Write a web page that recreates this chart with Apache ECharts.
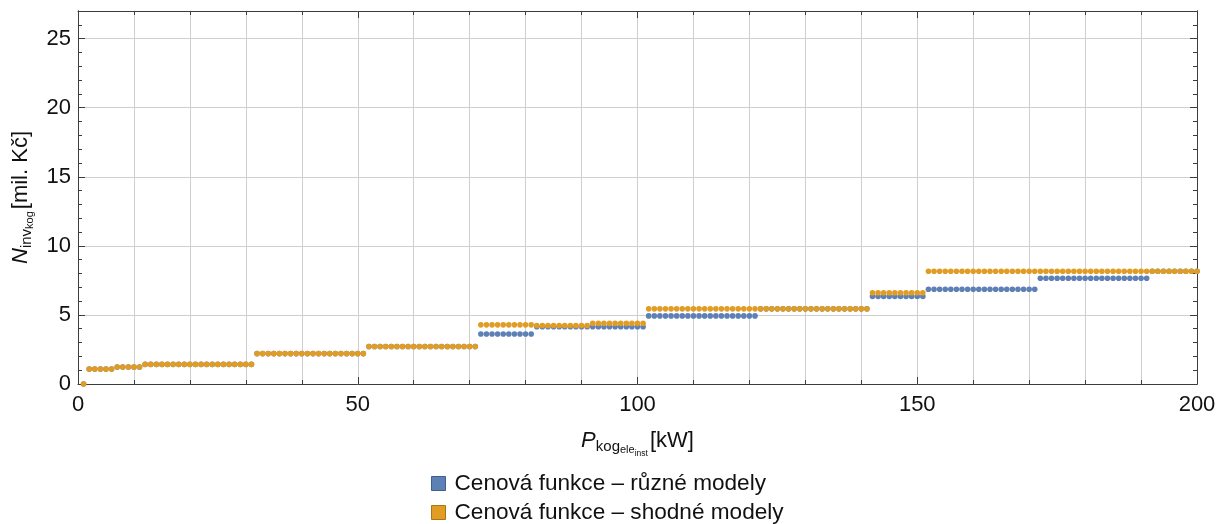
<!DOCTYPE html>
<html>
<head>
<meta charset="utf-8">
<script src="https://cdn.jsdelivr.net/npm/echarts@6/dist/echarts.min.js"></script>
<style>
  html, body { margin: 0; padding: 0; background: #fff; }
  #chart { width: 1228px; height: 524px; }
</style>
</head>
<body>
<div id="chart"></div>
<script>
// Installed electric power of the CHP unit, kW (one point per kW)
const powerStart = 1;

// Investment cost steps, mil. Kč: level value and how many consecutive kW it holds
const diffLevels = [0, 1.08, 1.23, 1.42, 2.20, 2.71, 3.62, 4.14, 4.93, 5.44, 6.34, 6.86, 7.66, 8.16];
const diffCounts = [1, 5, 5, 20, 20, 20, 10, 20, 20, 20, 10, 20, 20, 9];

const sameLevels = [0, 1.08, 1.23, 1.42, 2.20, 2.71, 4.28, 4.24, 4.39, 5.44, 6.60, 8.16];
const sameCounts = [1, 5, 5, 20, 20, 20, 10, 10, 10, 40, 10, 49];

const seriesNames = ['Cenová funkce – různé modely', 'Cenová funkce – shodné modely'];
const seriesColors = ['#5e81b5', '#e19c24'];
const seriesBorders = ['#3e5f90', '#a8731a'];

const xTickLabels = [0, 50, 100, 150, 200];
const yTickLabels = [0, 5, 10, 15, 20, 25];

// Expand the run-length steps into [kW, value] points
function stepPoints(levels, counts) {
  const pts = [];
  let p = powerStart;
  levels.forEach((v, i) => {
    for (let k = 0; k < counts[i]; k++) { pts.push([p, v]); p++; }
  });
  return pts;
}

const FONT = 'Liberation Sans, Arial, sans-serif';
const frameColor = '#3c3c3c';
const gridColor = '#cfcfcf';
const textColor = '#111';

const chart = echarts.init(document.getElementById('chart'));

const mainX = {
  type: 'value', min: 0, max: 200, interval: 50,
  axisLine: { show: true, onZero: false, lineStyle: { color: frameColor, width: 1 } },
  splitLine: { show: true, lineStyle: { color: gridColor, width: 1 } },
  minorSplitLine: { show: true, lineStyle: { color: gridColor, width: 1 } },
  axisTick: { show: true, inside: true, length: 7, lineStyle: { color: frameColor } },
  minorTick: { show: true, splitNumber: 5, length: 4, lineStyle: { color: frameColor } }
};

const minorY = (pos) => ({
  type: 'value', position: pos, min: 0, max: 27, interval: 1,
  axisLine: { show: true, onZero: false, lineStyle: { color: frameColor, width: 1 } },
  axisTick: { show: true, inside: true, length: 4, lineStyle: { color: frameColor } },
  axisLabel: { show: false }, splitLine: { show: false }
});

const majorY = (pos, labels) => ({
  type: 'value', position: pos, min: 0, max: 27, interval: 5,
  axisLine: { show: true, onZero: false, lineStyle: { color: frameColor, width: 1 } },
  axisTick: { show: true, inside: true, length: 7, lineStyle: { color: frameColor } },
  axisLabel: labels ? {
    show: true, fontSize: 22, color: textColor, fontFamily: FONT, margin: 7,
    formatter: v => yTickLabels.includes(v) ? String(v) : ''
  } : { show: false },
  splitLine: { show: labels, lineStyle: { color: gridColor, width: 1 } }
});

// Axis titles: italic symbol followed by nested, progressively lowered subscripts
const richName = {
  m: { fontSize: 22, fontStyle: 'italic', fontFamily: FONT, color: textColor, verticalAlign: 'top' },
  s1: { fontSize: 15, fontFamily: FONT, color: textColor, verticalAlign: 'top', padding: [9, 0, 0, 0] },
  s2: { fontSize: 11, fontFamily: FONT, color: textColor, verticalAlign: 'top', padding: [14, 0, 0, 0] },
  s3: { fontSize: 8.5, fontFamily: FONT, color: textColor, verticalAlign: 'top', padding: [19, 0, 0, 0] },
  u: { fontSize: 22, fontFamily: FONT, color: textColor, verticalAlign: 'top', padding: [0, 0, 0, 2] }
};

chart.setOption({
  animation: false,
  backgroundColor: '#ffffff',
  grid: { left: 78, right: 31, top: 11, bottom: 140, containLabel: false, outerBoundsMode: 'none' },
  xAxis: [
    Object.assign({}, mainX, {
      position: 'bottom',
      axisLabel: {
        show: true, fontSize: 22, color: textColor, fontFamily: FONT, margin: 10,
        formatter: v => xTickLabels.includes(v) ? String(v) : ''
      },
      name: '{m|P}{s1|kog}{s2|ele}{s3|inst}{u|[kW]}',
      nameLocation: 'middle', nameGap: 46, nameMoveOverlap: false,
      nameTextStyle: { rich: richName }
    }),
    Object.assign({}, mainX, {
      position: 'top',
      axisLabel: { show: false },
      splitLine: { show: false }, minorSplitLine: { show: false }
    })
  ],
  yAxis: [
    Object.assign(majorY('left', true), {
      name: '{m|N}{s1|inv}{s2|kog}{u|[mil. Kč]}',
      nameLocation: 'middle', nameGap: 43, nameRotate: 90, nameMoveOverlap: false,
      nameTextStyle: { rich: richName }
    }),
    minorY('left'),
    majorY('right', false),
    minorY('right')
  ],
  legend: {
    orient: 'vertical', left: 431, top: 472, height: 100, padding: 0,
    icon: 'rect', itemWidth: 14, itemHeight: 14, itemGap: 6,
    textStyle: { fontSize: 22.6, color: textColor, fontFamily: FONT, padding: [0, 0, 0, 4] },
    data: seriesNames.map((n, i) => ({
      name: n, itemStyle: { color: seriesColors[i], borderColor: seriesBorders[i], borderWidth: 1 }
    }))
  },
  series: [
    {
      name: seriesNames[0], type: 'scatter', xAxisIndex: 0, yAxisIndex: 0,
      symbol: 'circle', symbolSize: 5.6,
      itemStyle: { color: seriesColors[0], opacity: 1 },
      data: stepPoints(diffLevels, diffCounts), z: 3
    },
    {
      name: seriesNames[1], type: 'scatter', xAxisIndex: 0, yAxisIndex: 0,
      symbol: 'circle', symbolSize: 5.6,
      itemStyle: { color: seriesColors[1], opacity: 1 },
      data: stepPoints(sameLevels, sameCounts), z: 4
    }
  ]
});
</script>
</body>
</html>
